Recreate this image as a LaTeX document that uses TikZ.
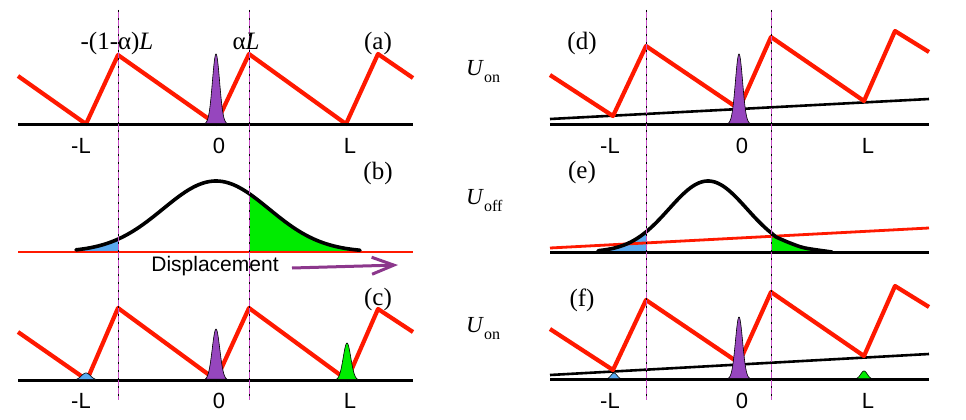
\documentclass[tikz,border=0pt]{standalone}
\usepackage{fontspec}
\setmainfont{Liberation Serif}
\setsansfont{Liberation Sans}
\usetikzlibrary{arrows.meta}
\definecolor{sawred}{RGB}{255,25,0}
\definecolor{pkpurple}{RGB}{150,70,190}
\definecolor{pkgreen}{RGB}{0,235,0}
\definecolor{pkblue}{RGB}{90,170,240}
\definecolor{arrowpurple}{RGB}{140,55,140}
\definecolor{dashmag}{RGB}{200,80,200}
\newcommand\mypeak[6]{%
  \filldraw[fill=#1, draw=black, line width=0.6pt]
    plot[domain=-#5:#5, samples=41] ({#2+\x}, {#3-#4*exp(-((\x/#6)^2)/2)}) -- cycle;}
\tikzset{
  saw/.style={sawred, line width=4.2pt, line join=round},
  baseln/.style={black, line width=3pt},
  tilt/.style={black, line width=2.6pt},
  redln/.style={sawred, line width=2.8pt},
  curve/.style={black, line width=3.6pt, line join=round, line cap=round},
  guide/.style={dashmag, line width=1pt},
  guidedash/.style={black, line width=1pt, dash pattern=on 2pt off 6pt},
  ser/.style={font=\fontsize{25}{25}\selectfont, inner sep=0pt, anchor=base},
  sans/.style={font=\sffamily\fontsize{22}{22}\selectfont, inner sep=0pt, anchor=base},
  ulab/.style={font=\fontsize{23}{23}\selectfont, inner sep=0pt, anchor=base west},
}
\newcommand\usub[1]{\textit{U}\raisebox{-7pt}{\fontsize{16}{16}\selectfont #1}}
\begin{document}
\begin{tikzpicture}[x=1pt, y=-1pt]
\useasboundingbox (0,0) rectangle (966,420);
\fill[white] (0,0) rectangle (966,420);

% ---------- (a) ----------
\draw[saw] (18,76) -- (86,124) -- (118,55) -- (216,124) -- (249,54) -- (346,124) -- (378,54) -- (413,78);
\draw[baseln] (18,124) -- (413,124);
\mypeak{pkpurple}{216}{124}{70}{11}{3.6}

% ---------- (b) ----------
\fill[pkblue] plot[domain=76:118, samples=30] (\x, {252-71*exp(-(((\x-216)/53)^2)/2)}) -- (118,252) -- (76,252) -- cycle;
\fill[pkgreen] plot[domain=249:360, samples=50] (\x, {252-71*exp(-(((\x-216)/53)^2)/2)}) -- (360,252) -- (249,252) -- cycle;
\draw[redln] (18,252) -- (413,252);
\draw[curve] plot[domain=76:360, samples=100] (\x, {252-71*exp(-(((\x-216)/53)^2)/2)});

% ---------- (c) ----------
\draw[saw] (18,332) -- (87,380) -- (118,308) -- (216,380) -- (249,308) -- (347,380) -- (378,309) -- (413,332);
\draw[baseln] (18,380) -- (413,380);
\mypeak{pkblue}{86}{380}{7}{10}{4.5}
\mypeak{pkpurple}{216}{380}{51}{11}{3.8}
\mypeak{pkgreen}{347}{380}{37}{11}{3.8}

% ---------- (d) ----------
\draw[tilt] (550,119) -- (929,99);
\draw[saw] (550,75) -- (613,116) -- (646,46) -- (739,109) -- (771,37) -- (864,101) -- (895,31) -- (929,52);
\draw[baseln] (550,124) -- (929,124);
\mypeak{pkpurple}{739}{124}{70}{11}{3.6}

% ---------- (e) ----------
\fill[pkblue] plot[domain=598:646, samples=30] (\x, {252-71*exp(-(((\x-708)/39)^2)/2)}) -- (646,252) -- (598,252) -- cycle;
\fill[pkgreen] (771,252) -- (771,233) -- plot[smooth] coordinates {(776,237) (790,243) (805,248) (832,252)} -- cycle;
\draw[baseln] (550,252) -- (929,252);
\draw[redln] (550,248) -- (929,228);
\draw[curve] plot[domain=598:771, samples=80] (\x, {252-71*exp(-(((\x-708)/39)^2)/2)})
   -- plot[smooth] coordinates {(776,237) (790,243) (805,248) (832,252)};

% ---------- (f) ----------
\draw[tilt] (550,375) -- (929,354);
\draw[saw] (550,329) -- (613,370) -- (646,300) -- (739,363) -- (771,292) -- (864,356) -- (895,286) -- (929,307);
\draw[baseln] (550,379) -- (929,379);
\mypeak{pkblue}{614}{379}{6}{7}{3}
\mypeak{pkpurple}{739}{379}{62}{11}{3.6}
\mypeak{pkgreen}{864}{379}{8}{8}{3.3}

% ---------- guide lines ----------
\foreach \gx in {118,249,646,771} {
  \draw[guide] (\gx,10) -- (\gx,400);
  \draw[guidedash] (\gx,10) -- (\gx,400);
}

% ---------- labels ----------
\node[ser] (lalpha1) at (117,50) {-(1-α)\textit{L}};
\node[ser] (lalpha2) at (246,50) {α\textit{L}};
\node[ser] (la) at (378,50) {(a)};
\node[ser] (lb) at (378,179) {(b)};
\node[ser] (lc) at (378,305) {(c)};
\node[ser] (ld) at (582,50) {(d)};
\node[ser] (le) at (582,178) {(e)};
\node[ser] (lf) at (582,306) {(f)};

\node[ulab] (uon1) at (466,75) {\usub{on}};
\node[ulab] (uoff) at (466,204) {\usub{off}};
\node[ulab] (uon2) at (466,332) {\usub{on}};

\node[sans] (amL) at (81,153) {-L};
\node[sans] (a0) at (219,153) {0};
\node[sans] (aL) at (350,153) {L};
\node[sans] (cmL) at (81,408) {-L};
\node[sans] (c0) at (219,408) {0};
\node[sans] (cL) at (350,408) {L};
\node[sans] (dmL) at (610,153) {-L};
\node[sans] (d0) at (742,153) {0};
\node[sans] (dL) at (868,153) {L};
\node[sans] (fmL) at (610,408) {-L};
\node[sans] (f0) at (742,408) {0};
\node[sans] (fL) at (868,408) {L};

\node[sans, font=\sffamily\fontsize{21}{21}\selectfont] (disp) at (215,271) {Displacement};
\coordinate (arrS) at (292,268);
\coordinate (arrE) at (398,265);
\draw[arrowpurple, line width=3pt, -{Straight Barb[length=22pt, width=17pt, line width=3pt]}] (arrS) -- (arrE);
\end{tikzpicture}
\end{document}
